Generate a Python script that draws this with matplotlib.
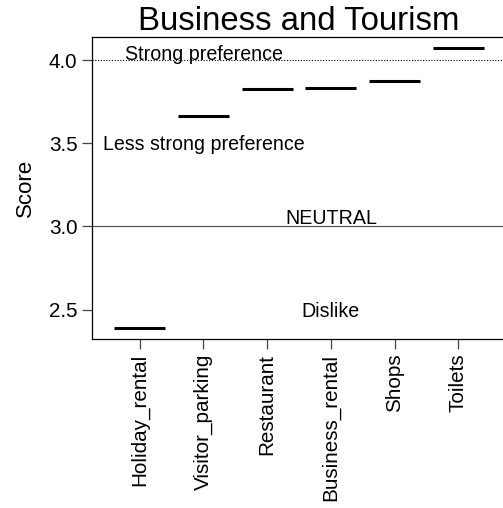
import matplotlib.pyplot as plt

plt.rcParams['font.family'] = ['Liberation Sans', 'DejaVu Sans']

categories = ['Holiday_rental', 'Visitor_parking', 'Restaurant',
              'Business_rental', 'Shops', 'Toilets']
scores = [2.39, 3.667, 3.828, 3.832, 3.876, 4.072]

# reference lines and their labels
neutral = 3.0
strong = 4.0
notes = [(2, 4.044, 'Strong preference'),
         (2, 3.503, 'Less strong preference'),
         (4, 3.058, 'NEUTRAL'),
         (4, 2.50, 'Dislike')]

fig = plt.figure(figsize=(5.03, 5.08), dpi=100)
ax = fig.add_axes([92 / 503, 1 - 339 / 508, (506 - 92) / 503, (339 - 37) / 508])

xs = list(range(1, len(categories) + 1))
ax.hlines(scores, [x - 0.4 for x in xs], [x + 0.4 for x in xs],
          color='black', linewidth=2.2)

ax.axhline(neutral, color='#555555', linewidth=0.9)
ax.axhline(strong, color='black', linewidth=0.8, linestyle=(0, (1, 1.5)))

# centre the capital letters on the given y, like R's text()
for x, y, t in notes:
    ax.annotate(t, (x, y), xytext=(0, -7), textcoords='offset pixels',
                ha='center', va='baseline', fontsize=14.1)

ax.set_xlim(0.25, 6.75)
ax.set_ylim(2.323, 4.14)
ax.set_xticks(xs)
ax.set_xticklabels(categories, rotation=90, fontsize=14.9)
ax.set_yticks([2.5, 3.0, 3.5, 4.0])
ax.set_yticklabels(['2.5', '3.0', '3.5', '4.0'], fontsize=14.9)
ax.tick_params(length=7, width=0.9, color='#444444')
ax.spines['right'].set_visible(False)
for s in ['left', 'bottom', 'top']:
    ax.spines[s].set_linewidth(0.9)

ax.set_ylabel('Score', fontsize=16, labelpad=9)
ax.set_title('Business and Tourism', fontsize=23.7, pad=2)

fig.savefig('out.png', dpi=100)
